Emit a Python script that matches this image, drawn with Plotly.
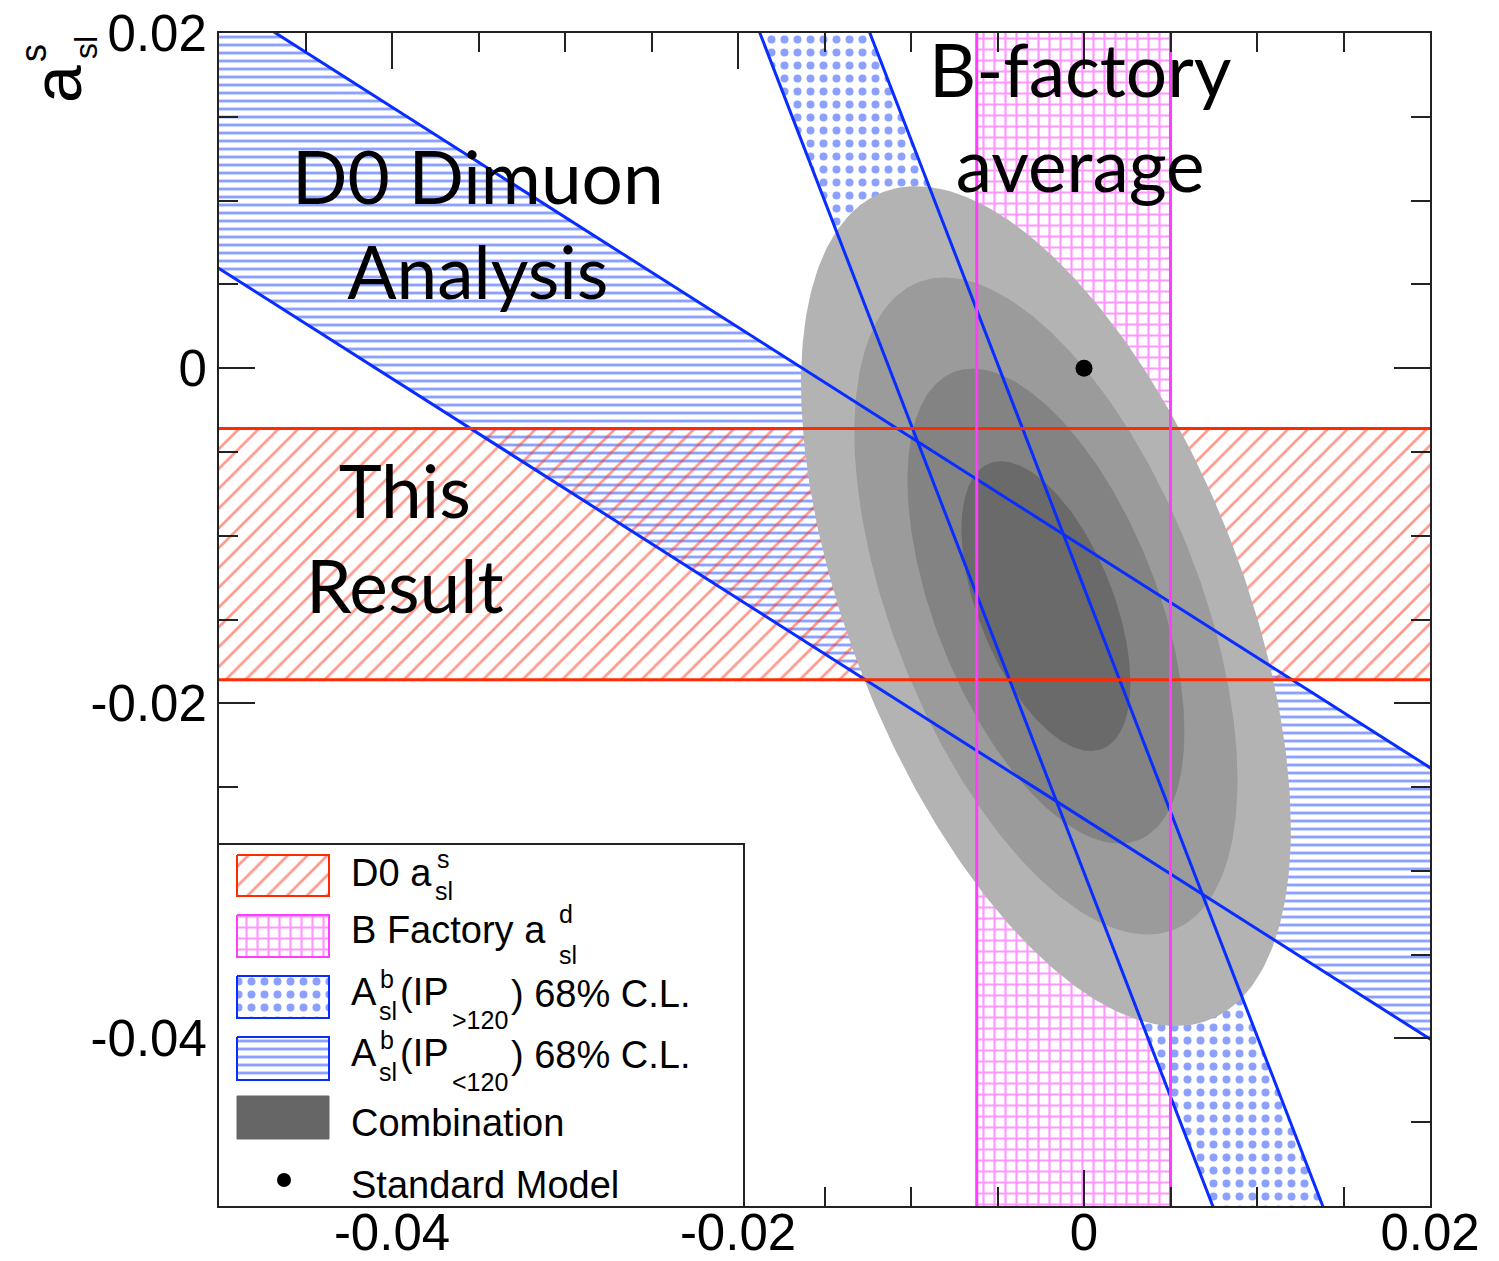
import numpy as np
import plotly.graph_objects as go

# ---------------------------------------------------------------- data
# axis ranges (a_sl^d on x, a_sl^s on y)
x_range = [-0.05, 0.02]
y_range = [-0.05, 0.02]

# tick labels
x_tick_vals = [-0.04, -0.02, 0.0, 0.02]
x_tick_text = ["-0.04", "-0.02", "0", "0.02"]
y_tick_vals = [-0.04, -0.02, 0.0, 0.02]
y_tick_text = ["-0.04", "-0.02", "0", "0.02"]

# D0 a_sl^s measurement (horizontal band, lower / upper edge)
d0_asls_band = [-0.0186, -0.0036]
# B-factory a_sl^d average (vertical band, left / right edge)
bfactory_asld_band = [-0.0062, 0.0050]

# A_sl^b constraints written as a_sl^s = slope * a_sl^d + intercept
ip_lt120_slope = -0.657
ip_lt120_intercepts = [-0.0269, -0.0107]
ip_gt120_slope = -2.674
ip_gt120_intercepts = [-0.0301, -0.0131]

# combination: gaussian likelihood contours
comb_center = [-0.0022, -0.0142]
comb_sigma = [0.00322, 0.0057]
comb_rho = -0.53
comb_dchi2 = [19.33, 11.83, 6.18, 2.30]   # 4, 3, 2, 1 sigma in 2D

# Standard Model expectation
sm_point = [0.0, 0.0]

legend_labels = [
    "D0 a", "B Factory a", "A", "A", "Combination", "Standard Model",
]

# ---------------------------------------------------------------- style
W, H = 1499, 1261
L, R, T, B = 219, 1430, 33, 1206          # plot frame in page pixels
PW, PH = R - L, B - T

RED, RED_HATCH = "#ff2a00", "#ff3418"
PINK, PINK_HATCH = "#ff3dff", "#ff30ff"
BLUE, BLUE_HATCH = "#0a2dff", "#1a44ff"
GRAYS = ["#b3b3b3", "#9b9b9b", "#838383", "#6a6a6a"]
LEGEND_GRAY = "#666666"

TEXT_FONT = "Liberation Sans, Arial, sans-serif"
BIG_FONT = "Lato, Open Sans, sans-serif"

pat_red = dict(shape="/", fgcolor=RED_HATCH, bgcolor="rgba(0,0,0,0)", size=14, solidity=0.19)
pat_pink = dict(shape="+", fgcolor=PINK_HATCH, bgcolor="rgba(0,0,0,0)", size=11, solidity=0.36)
pat_wave = dict(shape="-", fgcolor=BLUE_HATCH, bgcolor="rgba(0,0,0,0)", size=8, solidity=0.36)
pat_circ = dict(shape=".", fgcolor=BLUE_HATCH, bgcolor="white", size=13, solidity=0.3)


def paper_x(px):
    return (px - L) / PW


def paper_y(py):
    return (B - py) / PH


# far-away x / y limits so every band runs across the whole frame
XA, XB = -0.08, 0.05
YA, YB = -0.08, 0.05


def sloped_band(slope, intercepts):
    lo, hi = intercepts
    xs = [XA, XB, XB, XA, XA]
    ys = [slope * XA + lo, slope * XB + lo, slope * XB + hi, slope * XA + hi, slope * XA + lo]
    return xs, ys


def sloped_edges(slope, intercepts):
    xs, ys = [], []
    for c in intercepts:
        xs += [XA, XB, None]
        ys += [slope * XA + c, slope * XB + c, None]
    return xs, ys


fig = go.Figure()

# --- filled bands (hatched)
xs, ys = sloped_band(ip_lt120_slope, ip_lt120_intercepts)
fig.add_trace(go.Scatter(x=xs, y=ys, mode="none", fill="toself",
                         fillcolor="rgba(0,0,0,0)", fillpattern=pat_wave,
                         showlegend=False, hoverinfo="skip"))

lo, hi = d0_asls_band
fig.add_trace(go.Scatter(x=[XA, XB, XB, XA, XA], y=[lo, lo, hi, hi, lo], mode="none",
                         fill="toself", fillcolor="rgba(0,0,0,0)", fillpattern=pat_red,
                         showlegend=False, hoverinfo="skip"))

lo, hi = bfactory_asld_band
fig.add_trace(go.Scatter(x=[lo, hi, hi, lo, lo], y=[YA, YA, YB, YB, YA], mode="none",
                         fill="toself", fillcolor="rgba(0,0,0,0)", fillpattern=pat_pink,
                         showlegend=False, hoverinfo="skip"))

xs, ys = sloped_band(ip_gt120_slope, ip_gt120_intercepts)
fig.add_trace(go.Scatter(x=xs, y=ys, mode="none", fill="toself",
                         fillcolor="white", fillpattern=pat_circ,
                         showlegend=False, hoverinfo="skip"))

# --- combination contours, outermost first
sx, sy = comb_sigma
cov = np.array([[sx * sx, comb_rho * sx * sy], [comb_rho * sx * sy, sy * sy]])
chol = np.linalg.cholesky(cov)
t = np.linspace(0, 2 * np.pi, 361)
circle = np.vstack([np.cos(t), np.sin(t)])
for k, col in zip(comb_dchi2, GRAYS):
    pts = np.sqrt(k) * chol @ circle
    fig.add_trace(go.Scatter(x=comb_center[0] + pts[0], y=comb_center[1] + pts[1],
                             mode="lines", fill="toself", fillcolor=col,
                             line=dict(width=0, color=col),
                             showlegend=False, hoverinfo="skip"))

# --- band edges on top
for slope, ints in [(ip_lt120_slope, ip_lt120_intercepts), (ip_gt120_slope, ip_gt120_intercepts)]:
    xs, ys = sloped_edges(slope, ints)
    fig.add_trace(go.Scatter(x=xs, y=ys, mode="lines", line=dict(color=BLUE, width=3),
                             showlegend=False, hoverinfo="skip"))

lo, hi = d0_asls_band
fig.add_trace(go.Scatter(x=[XA, XB, None, XA, XB], y=[lo, lo, None, hi, hi], mode="lines",
                         line=dict(color=RED, width=3), showlegend=False, hoverinfo="skip"))

lo, hi = bfactory_asld_band
fig.add_trace(go.Scatter(x=[lo, lo, None, hi, hi], y=[YA, YB, None, YA, YB], mode="lines",
                         line=dict(color=PINK, width=3), showlegend=False, hoverinfo="skip"))

# Standard Model point
fig.add_trace(go.Scatter(x=[sm_point[0]], y=[sm_point[1]], mode="markers",
                         marker=dict(color="black", size=17, line=dict(width=0)),
                         showlegend=False, hoverinfo="skip"))

# ---------------------------------------------------------------- legend box
# drawn in its own subplot (pixel units) so that it sits above the frame ticks
LG_L, LG_R, LG_T, LG_B = 219, 743, 845, 1206

fig.add_trace(go.Scatter(x=[LG_L, LG_R, LG_R, LG_L, LG_L], y=[LG_T, LG_T, LG_B, LG_B, LG_T],
                         mode="none", fill="toself", fillcolor="white",
                         xaxis="x2", yaxis="y2", showlegend=False, hoverinfo="skip"))

SW_L, SW_R = 237, 329
swatch_rows = [(855, 896), (915, 957), (976, 1018), (1037, 1080), (1096, 1139)]
swatch_styles = [
    dict(fillcolor="rgba(0,0,0,0)", fillpattern=pat_red, line=dict(color=RED, width=2)),
    dict(fillcolor="rgba(0,0,0,0)", fillpattern=pat_pink, line=dict(color=PINK, width=2)),
    dict(fillcolor="white", fillpattern=pat_circ, line=dict(color=BLUE, width=2)),
    dict(fillcolor="rgba(0,0,0,0)", fillpattern=pat_wave, line=dict(color=BLUE, width=2)),
    dict(fillcolor=LEGEND_GRAY, line=dict(color=LEGEND_GRAY, width=1)),
]
for (top, bot), st in zip(swatch_rows, swatch_styles):
    fig.add_trace(go.Scatter(x=[SW_L, SW_R, SW_R, SW_L, SW_L], y=[top, top, bot, bot, top],
                             mode="lines", fill="toself", xaxis="x2", yaxis="y2",
                             showlegend=False, hoverinfo="skip", **st))

fig.add_trace(go.Scatter(x=[284], y=[1180], mode="markers",
                         marker=dict(color="black", size=14, line=dict(width=0)),
                         xaxis="x2", yaxis="y2", showlegend=False, hoverinfo="skip"))

annotations = []


def legend_text(x, y, text, size=38, anchor="left"):
    annotations.append(dict(x=x, y=y, xref="x2", yref="y2", text=text, showarrow=False,
                            xanchor=anchor, yanchor="middle", borderpad=0,
                            font=dict(family=TEXT_FONT, size=size, color="black")))


FS, SS = 38, 25
mid = 0.35 * FS
legend_text(350, 886 - mid, legend_labels[0])
legend_text(443, 859, "s", SS, "center")
legend_text(444, 891, "sl", SS, "center")

legend_text(350, 943 - mid, legend_labels[1])
legend_text(566, 914, "d", SS, "center")
legend_text(568, 955, "sl", SS, "center")

for base, sup_y, sub_y, ip_y, ip_text in [(1005, 979, 1011, 1020, "&gt;120"),
                                          (1066, 1040, 1072, 1082, "&lt;120")]:
    legend_text(350, base - mid, legend_labels[2])
    legend_text(387, sup_y, "b", SS, "center")
    legend_text(388, sub_y, "sl", SS, "center")
    legend_text(399, base - mid, "(IP")
    legend_text(480, ip_y, ip_text, SS, "center")
    legend_text(510, base - mid + 2, ") 68% C.L.")

legend_text(350, 1136 - mid, legend_labels[4])
legend_text(350, 1198 - mid, legend_labels[5])

# ---------------------------------------------------------------- overlay labels
def big_text(px, py, text):
    annotations.append(dict(x=paper_x(px), y=paper_y(py), xref="paper", yref="paper",
                            text=text, showarrow=False, xanchor="center", yanchor="middle",
                            align="center",
                            font=dict(family=BIG_FONT, size=73, color="black")))


big_text(478, 224, "D0 Dimuon<br>Analysis")
big_text(1080, 116, "B-factory<br>average")
big_text(405, 537, "This<br>Result")

# y-axis title a_sl^s (rotated, stacked indices)
for px, py, txt, size in [(57, 84, "a", 68), (33, 53, "s", 36), (86, 48, "sl", 32)]:
    annotations.append(dict(x=paper_x(px), y=paper_y(py), xref="paper", yref="paper",
                            text=txt, showarrow=False, textangle=-90,
                            xanchor="center", yanchor="middle", borderpad=0,
                            font=dict(family=TEXT_FONT, size=size, color="black")))

# ---------------------------------------------------------------- axes
axis_common = dict(
    showline=True, linecolor="#222222", linewidth=2, mirror="ticks",
    ticks="inside", ticklen=36, tickwidth=2, tickcolor="#222222",
    showgrid=False, zeroline=False, tickmode="array", automargin=False,
    tickfont=dict(family=TEXT_FONT, size=51, color="black"),
    minor=dict(ticks="inside", ticklen=19, tickwidth=2, tickcolor="#222222",
               tickmode="linear", tick0=0, dtick=0.005, showgrid=False),
)

hidden_axis = dict(showline=True, mirror=True, linecolor="#222222", linewidth=2,
                   showticklabels=False, ticks="", showgrid=False, zeroline=False,
                   automargin=False)

fig.update_layout(
    width=W, height=H,
    margin=dict(l=L, r=W - R, t=T, b=H - B, pad=0, autoexpand=False),
    paper_bgcolor="white", plot_bgcolor="white",
    showlegend=False,
    xaxis=dict(range=x_range, tickvals=x_tick_vals, ticktext=x_tick_text,
               domain=[0, 1], ticklabelstandoff=-19, **axis_common),
    yaxis=dict(range=y_range, tickvals=y_tick_vals, ticktext=y_tick_text,
               domain=[0, 1], **axis_common),
    xaxis2=dict(domain=[paper_x(LG_L), paper_x(LG_R)], range=[LG_L, LG_R], anchor="y2",
                **hidden_axis),
    yaxis2=dict(domain=[paper_y(LG_B), paper_y(LG_T)], range=[LG_B, LG_T], anchor="x2",
                **hidden_axis),
    annotations=annotations,
)

fig.write_html("out.html")
